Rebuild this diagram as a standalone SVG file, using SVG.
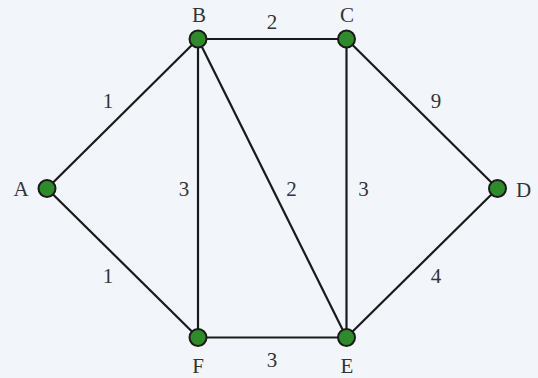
<svg xmlns="http://www.w3.org/2000/svg" width="538" height="378" viewBox="0 0 538 378">
<style>
.e{stroke:#1a1a1a;stroke-width:2.2;fill:none}
.n{fill:#2e8b2a;stroke:#1a1a1a;stroke-width:2}
text{font-family:'Liberation Serif','Times New Roman','DejaVu Serif',serif;font-size:21px;fill:#333;text-anchor:middle}
</style>
<rect width="538" height="378" fill="#f2f6fa"/>
<g id="edges">
<line class="e" x1="47" y1="188.5" x2="198" y2="39"/>
<line class="e" x1="47" y1="188.5" x2="198" y2="337.5"/>
<line class="e" x1="198" y1="39" x2="346.5" y2="39"/>
<line class="e" x1="198" y1="39" x2="198" y2="337.5"/>
<line class="e" x1="198" y1="39" x2="346.5" y2="337.5"/>
<line class="e" x1="346.5" y1="39" x2="346.5" y2="337.5"/>
<line class="e" x1="346.5" y1="39" x2="497.5" y2="188.5"/>
<line class="e" x1="497.5" y1="188.5" x2="346.5" y2="337.5"/>
<line class="e" x1="198" y1="337.5" x2="346.5" y2="337.5"/>
<text x="108" y="108">1</text>
<text x="108" y="283">1</text>
<text x="272" y="29">2</text>
<text x="184" y="196">3</text>
<text x="291.5" y="196">2</text>
<text x="363.5" y="196">3</text>
<text x="436" y="108">9</text>
<text x="436" y="283">4</text>
<text x="272" y="367">3</text>
</g>
<g id="A"><circle class="n" cx="47" cy="188.5" r="8.5"/><text x="21" y="196">A</text></g>
<g id="B"><circle class="n" cx="198" cy="39" r="8.5"/><text x="199" y="21.5">B</text></g>
<g id="C"><circle class="n" cx="346.5" cy="39" r="8.5"/><text x="347" y="21.5">C</text></g>
<g id="D"><circle class="n" cx="497.5" cy="188.5" r="8.5"/><text x="523.5" y="196.5">D</text></g>
<g id="E"><circle class="n" cx="346.5" cy="337.5" r="8.5"/><text x="347" y="373">E</text></g>
<g id="F"><circle class="n" cx="198" cy="337.5" r="8.5"/><text x="198" y="373">F</text></g>
</svg>
